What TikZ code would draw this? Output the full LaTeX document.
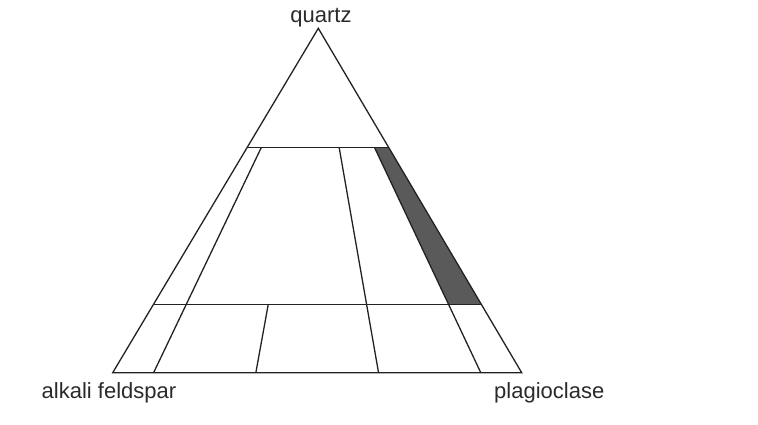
\documentclass[tikz,border=0pt]{standalone}
\usepackage{fontspec}
\setmainfont{Liberation Sans}
\usetikzlibrary{calc}
\definecolor{linec}{HTML}{222222}
\definecolor{shadec}{HTML}{5A5A5A}
\definecolor{textc}{HTML}{2A2A2A}
\begin{document}
\begin{tikzpicture}[x=1pt,y=-1pt,
  edge/.style={draw=linec,line width=1.3pt,line join=miter},
  lab/.style={text=textc,font=\fontsize{22}{26}\selectfont,inner sep=0pt}]
\useasboundingbox (0,0) rectangle (758,425);
% vertices
\coordinate (Q) at (318.3,28.3);
\coordinate (A) at (112.7,372.7);
\coordinate (P) at (521.7,372.7);
% base division points
\coordinate (b10) at ($(A)!0.10!(P)$);
\coordinate (b35) at ($(A)!0.35!(P)$);
\coordinate (b65) at ($(A)!0.65!(P)$);
\coordinate (b90) at ($(A)!0.90!(P)$);
% horizontal line ends
\def\tu{0.3455}
\def\tl{0.8014}
\coordinate (uA) at ($(Q)!\tu!(A)$);
\coordinate (uP) at ($(Q)!\tu!(P)$);
\coordinate (lA) at ($(Q)!\tl!(A)$);
\coordinate (lP) at ($(Q)!\tl!(P)$);
% radial line points
\coordinate (u10) at ($(Q)!\tu!(b10)$);
\coordinate (u65) at ($(Q)!\tu!(b65)$);
\coordinate (u90) at ($(Q)!\tu!(b90)$);
\coordinate (l35) at ($(Q)!\tl!(b35)$);
\coordinate (l90) at ($(Q)!\tl!(b90)$);
% shaded field
\fill[shadec] (u90) -- (uP) -- (lP) -- (l90) -- cycle;
% lines
\draw[edge] (Q) -- (A) -- (P) -- cycle;
\draw[edge] (uA) -- (uP);
\draw[edge] (lA) -- (lP);
\draw[edge] (u10) -- (b10);
\draw[edge] (u65) -- (b65);
\draw[edge] (u90) -- (b90);
\draw[edge] (l35) -- (b35);
% labels
\node[lab,anchor=base] (lq) at (321,23) {quartz};
\node[lab,anchor=base west] (la) at (41.5,398.5) {alkali feldspar};
\node[lab,anchor=base west] (lp) at (494,398.5) {plagioclase};
\end{tikzpicture}
\end{document}
